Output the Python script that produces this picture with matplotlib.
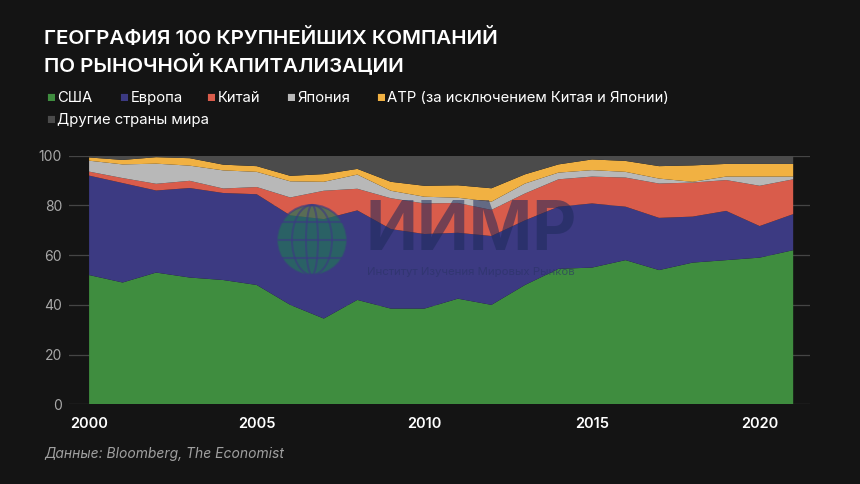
import matplotlib
matplotlib.use("Agg")
import matplotlib.pyplot as plt
from matplotlib.patches import Ellipse

plt.rcParams['font.family'] = ['Inter', 'DejaVu Sans']

years = list(range(2000, 2022))
usa = [52, 49, 53, 51, 50, 48, 40, 34.5, 42, 38.5, 38.5, 42.5, 40, 48, 54.5, 55, 58, 54, 57, 58, 59, 62]
europe = [40, 40, 33, 36, 35, 36.5, 36, 40, 36, 32, 30, 26.5, 27.7, 26, 25, 25.8, 21.5, 21, 18.5, 19.8, 12.7, 14.5]
china = [1.6, 2, 2.7, 2.9, 1.8, 2.9, 7.2, 11.4, 8.7, 12.4, 12.3, 12, 10.5, 10.8, 11, 10.8, 11.7, 13.8, 13.7, 12.4, 16.2, 14]
japan = [4.4, 5.5, 8.1, 6.1, 7.3, 6.1, 6.5, 3.6, 5.7, 3, 2.7, 2.1, 3.3, 4, 2.7, 2.6, 2.3, 2, 0.3, 1.4, 3.7, 1.1]
apac = [1.3, 1.8, 2.6, 3, 2.3, 2.3, 2.2, 3.1, 2.3, 3.6, 4.4, 5, 5.4, 3.7, 3.3, 4.3, 4.4, 5, 6.6, 5.1, 5.1, 5.1]
other = [100 - sum(v) for v in zip(usa, europe, china, japan, apac)]

labels = ['США', 'Европа', 'Китай', 'Япония', 'АТР (за исключением Китая и Японии)', 'Другие страны мира']
colors = ['#3f8d3f', '#3c3a82', '#d95c4b', '#b8b8b8', '#f1b142', '#4b4b4b']

bg = '#141414'
fig = plt.figure(figsize=(8.6, 4.84), dpi=100, facecolor=bg)
ax = fig.add_axes([0.0802, 0.1646, 0.8616, 0.5137])
ax.set_facecolor(bg)

ax.stackplot(years, usa, europe, china, japan, apac, other, colors=colors, linewidth=0, zorder=2)

ax.set_xlim(1999.4, 2021.5)
ax.set_ylim(0, 100)
ax.set_yticks([0, 20, 40, 60, 80, 100])
ax.set_xticks([2000, 2005, 2010, 2015, 2020])
ax.grid(axis='y', color='#454545', linewidth=0.9, zorder=0)
ax.tick_params(axis='y', length=0, pad=5, labelsize=10, labelcolor='#a8a8a8')
ax.tick_params(axis='x', length=0, pad=9, labelsize=10.5, labelcolor='white')
for t in ax.get_xticklabels():
    t.set_fontweight('semibold')
for s in ax.spines.values():
    s.set_visible(False)

# watermark (logo)
fig.text(0.548, 0.52, 'ИИМР', fontsize=49, fontweight='bold', color='#1e2a5a', alpha=0.55,
         ha='center', va='center', zorder=5)
fig.text(0.548, 0.438, 'Институт Изучения Мировых Рынков', fontsize=8.2, color='#2a3366', alpha=0.6,
         ha='center', va='center', zorder=5)
gx, gy = 312 / 860, 1 - 240 / 484
fig.add_artist(Ellipse((gx, gy), 70 / 860, 70 / 484, transform=fig.transFigure,
                       facecolor='#23735a', alpha=0.7, edgecolor='none', zorder=4))
for w in [70, 40, 12]:
    fig.add_artist(Ellipse((gx, gy), w / 860, 70 / 484, transform=fig.transFigure,
                           facecolor='none', edgecolor='#3c3a82', alpha=0.6, linewidth=1.5, zorder=4))
for dy in [-18, 0, 18]:
    fig.add_artist(plt.Line2D([gx - 33 / 860, gx + 33 / 860], [gy + dy / 484, gy + dy / 484],
                              transform=fig.transFigure, color='#3c3a82', alpha=0.6, linewidth=1.5, zorder=4))

# title
fig.text(0.051, 0.942, 'ГЕОГРАФИЯ 100 КРУПНЕЙШИХ КОМПАНИЙ\nПО РЫНОЧНОЙ КАПИТАЛИЗАЦИИ',
         fontsize=14.8, fontweight='semibold', color='white', va='top', linespacing=1.3)

# legend
leg_row1 = [(0.053, 0), (0.138, 1), (0.24, 2), (0.333, 3), (0.437, 4)]
for x, i in leg_row1:
    fig.text(x, 0.797, '■', color=colors[i], fontsize=7, va='center')
    fig.text(x + 0.0135, 0.798, labels[i], color='white', fontsize=10.7, va='center')
fig.text(0.053, 0.752, '■', color=colors[5], fontsize=7, va='center')
fig.text(0.0665, 0.753, labels[5], color='white', fontsize=10.7, va='center')

fig.text(0.051, 0.063, 'Данные: Bloomberg, The Economist', fontsize=10, style='italic',
         color='#a0a0a0', va='center')

fig.savefig('out.png', dpi=100, facecolor=bg)
